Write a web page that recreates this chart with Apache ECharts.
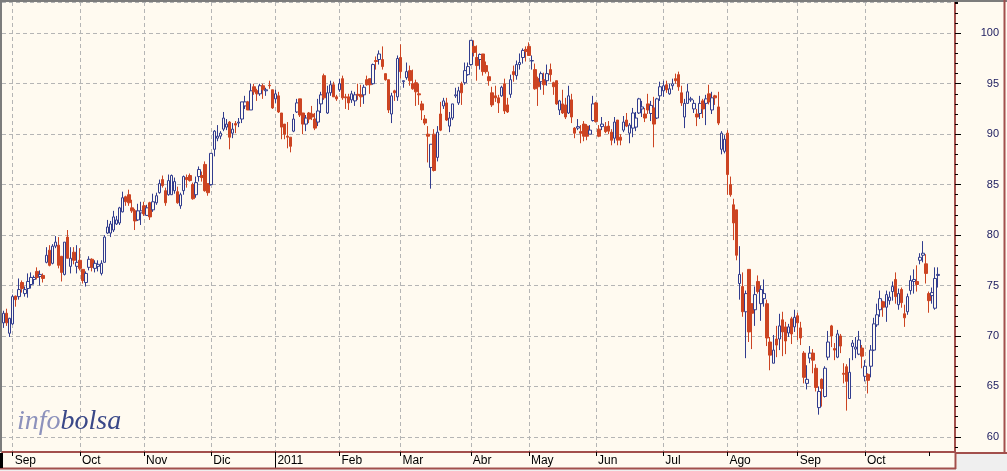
<!DOCTYPE html>
<html>
<head>
<meta charset="utf-8">
<script src="https://cdn.jsdelivr.net/npm/echarts@6/dist/echarts.min.js"></script>
<style>
html,body{margin:0;padding:0;background:#fffaf0;overflow:hidden}
#chart{width:1007px;height:471px}
</style>
</head>
<body>
<div id="chart"></div>
<script>
// ---- calendar (trading days) ----
const startDate = '2010-08-27';
const holidays = ['2010-12-24','2010-12-31','2011-04-22','2011-04-25'];
const totalSlots = 312;
// tick labels at each month start (last month: tick only)
const monthLabels = ['Sep','Oct','Nov','Dic','2011','Feb','Mar','Abr','May','Jun','Jul','Ago','Sep','Oct',''];
const yearStartLabel = '2011';

// ---- OHLC values ----
const openVals = [
71.3,72.25,70.27,71.2,73.95,73.9,75.3,74.2,74.7,75.1,
75.6,76.4,75.9,76.0,77.3,78.5,77.2,78.9,79.0,77.9,
76.1,79.8,76.9,78.3,76.9,77.5,76.6,75.3,76.8,77.6,
76.7,76.9,76.2,77.3,80.2,80.2,80.5,81.1,81.2,82.3,
83.8,84.0,82.7,82.4,81.5,82.2,82.9,81.95,83.2,82.5,
83.2,84.2,85.5,84.4,84.0,84.0,84.4,84.3,82.9,84.4,
85.7,85.9,85.0,84.0,85.8,85.9,87.0,85.1,85.0,88.5,
89.6,89.8,90.5,90.7,91.2,90.1,91.05,91.1,91.5,92.8,
93.2,92.4,94.7,94.3,94.0,94.8,94.3,94.85,94.4,93.5,
93.8,92.1,91.0,89.8,89.7,90.3,92.2,93.5,92.1,91.0,
92.1,92.0,91.5,91.2,93.0,95.8,92.1,94.1,94.9,93.7,
94.4,95.5,93.7,93.7,93.4,93.3,93.95,93.9,93.9,95.4,
95.5,95.0,97.3,97.4,97.4,96.0,95.4,92.0,94.3,93.7,
97.6,95.2,95.6,96.3,95.0,95.1,94.0,93.0,91.5,90.0,
86.7,90.0,87.7,92.0,92.8,93.1,90.8,91.6,93.8,93.1,
95.0,95.1,95.9,96.9,98.7,97.6,97.4,97.95,96.8,95.7,
94.1,93.8,93.6,93.8,95.0,92.9,93.95,96.2,95.8,96.9,
97.6,98.4,98.7,97.25,96.4,95.5,95.2,95.4,95.3,96.4,
95.1,95.3,92.4,93.0,92.9,92.1,93.4,90.6,90.6,90.25,
91.0,90.8,90.0,91.35,93.1,90.5,90.75,90.75,90.8,90.2,
89.6,91.4,89.7,90.4,91.4,90.1,90.6,90.7,92.1,92.5,
92.0,93.0,92.05,92.6,91.6,93.8,94.3,94.9,94.0,94.8,
95.5,95.9,94.1,91.7,93.05,93.4,92.5,92.0,92.05,93.3,
93.05,94.0,92.4,93.8,92.7,88.5,88.3,90.1,85.0,83.0,
82.5,75.2,74.9,72.4,76.6,73.2,72.6,75.4,73.2,73.7,
73.2,69.4,67.3,69.7,69.7,71.6,70.9,70.3,71.7,70.9,
72.0,70.8,68.3,65.3,67.8,68.3,66.8,62.9,65.7,64.0,
67.9,71.0,68.75,67.9,70.0,66.3,66.95,63.8,68.95,68.7,
68.2,68.8,66.0,66.2,67.0,68.6,71.1,72.6,73.4,72.85,
73.5,74.4,75.6,73.1,74.6,72.2,72.4,74.5,75.4,75.4,
77.5,78.0,77.15,74.2,74.0,72.75,76.0];
const closeVals = [
72.25,71.3,71.75,73.9,73.6,74.6,74.7,74.6,75.4,75.8,
75.8,75.8,76.1,75.7,78.0,77.0,78.9,79.3,77.0,76.3,
79.3,77.7,77.7,77.5,77.3,76.7,75.5,76.2,77.6,76.8,
77.2,77.1,77.2,79.8,80.8,81.1,81.8,81.5,82.7,83.7,
83.3,83.2,82.4,81.4,82.4,82.4,82.1,82.7,81.8,83.3,
83.9,85.1,84.9,83.2,85.4,85.9,85.3,83.2,84.0,85.8,
85.5,85.4,83.6,85.2,86.5,85.7,84.4,84.2,88.1,90.3,
89.8,90.1,91.6,91.0,89.7,90.5,90.9,91.2,93.2,93.2,
92.4,94.3,94.2,94.0,94.8,94.4,94.4,94.8,92.6,94.0,
92.2,90.7,90.0,89.7,88.8,91.5,93.1,91.9,91.0,91.6,
91.5,91.7,90.6,92.3,93.9,93.6,94.1,94.9,93.7,93.5,
95.0,93.6,93.6,93.1,94.0,93.9,93.85,93.7,94.65,94.9,
94.9,96.9,97.2,97.95,96.7,95.4,92.4,93.8,94.1,97.5,
96.2,95.3,96.2,95.3,94.5,94.2,93.9,92.4,91.1,89.8,
89.0,86.4,90.2,90.4,93.3,91.4,91.6,93.0,93.9,94.3,
94.1,96.3,96.7,99.3,98.1,96.8,97.9,96.2,96.2,95.3,
92.9,93.6,93.1,94.65,92.3,92.2,95.4,95.9,96.9,97.1,
98.3,98.2,97.8,97.3,94.5,94.7,96.0,94.9,96.0,95.9,
94.7,93.0,93.3,92.1,91.7,93.8,91.7,90.1,90.75,90.1,
89.8,89.8,90.4,93.0,91.25,89.8,91.0,90.25,90.3,89.4,
91.2,89.4,89.4,91.2,90.8,90.9,92.1,91.6,93.5,92.7,
91.6,92.4,92.85,91.0,93.5,94.7,94.8,94.4,94.5,95.0,
95.3,94.7,93.1,93.05,94.2,93.5,93.05,91.7,93.05,92.5,
93.5,93.2,93.6,93.6,91.1,90.1,89.5,86.0,84.0,81.2,
78.0,76.1,72.4,74.2,70.4,72.25,74.1,74.4,74.6,74.2,
69.8,68.1,68.6,69.1,71.0,70.4,69.5,70.9,70.2,71.85,
71.3,69.8,65.9,65.7,68.3,67.6,64.9,64.5,64.8,66.8,
69.4,70.0,68.6,70.2,69.0,66.2,65.5,66.4,69.3,68.9,
69.6,68.0,67.0,65.6,68.6,71.2,72.1,73.7,72.85,74.1,
73.85,74.9,73.9,74.2,73.3,71.8,73.9,75.5,75.6,75.1,
77.8,78.2,76.2,73.5,74.3,75.7,76.1];
const lowVals = [
70.8,71.0,69.9,71.1,72.9,73.6,74.3,73.9,73.8,74.7,
75.1,75.6,75.0,75.3,77.2,76.9,77.1,78.7,76.7,75.4,
76.0,77.7,76.2,77.1,76.2,76.5,75.2,74.9,76.5,76.4,
76.3,76.4,76.0,77.3,80.1,79.8,80.3,81.0,81.0,82.25,
82.9,82.9,82.2,80.5,81.4,81.0,81.9,81.9,81.5,82.3,
83.0,84.1,84.7,82.9,83.9,84.0,84.1,83.1,82.6,84.0,
84.7,85.3,83.5,83.7,85.3,85.3,84.3,83.9,84.9,87.8,
89.3,89.5,90.3,90.4,88.5,89.6,90.1,90.7,91.1,92.5,
92.4,92.4,93.9,93.3,93.8,93.5,93.8,94.5,92.5,93.1,
92.1,89.5,89.5,88.6,88.2,90.2,92.1,91.7,90.0,90.3,
91.1,91.4,90.4,90.8,92.1,93.4,92.0,93.8,93.7,93.3,
94.2,93.4,92.5,92.4,93.1,92.8,93.4,92.7,93.0,94.8,
94.0,94.9,96.4,96.9,96.4,95.3,92.1,91.1,93.3,93.3,
95.5,94.6,95.4,94.8,94.4,92.8,92.9,91.4,90.9,87.2,
84.6,86.3,87.3,90.3,92.5,91.3,90.2,91.4,93.6,92.9,
92.9,94.9,95.8,96.8,97.7,95.3,96.4,95.8,96.0,94.8,
92.7,93.2,92.1,93.7,92.0,92.1,93.6,95.2,95.4,96.4,
97.0,97.2,97.8,96.4,94.4,92.8,94.4,93.9,94.8,95.2,
93.9,92.9,91.9,92.0,91.5,92.0,91.1,89.6,90.4,89.1,
89.3,89.4,90.0,91.25,91.15,89.7,90.4,90.1,90.0,88.9,
89.1,88.9,88.9,90.2,90.7,89.1,89.7,90.3,92.0,91.7,
91.2,92.0,91.3,88.7,91.5,93.3,93.7,94.1,93.9,94.4,
95.0,94.3,92.8,90.6,93.0,93.2,92.1,90.8,91.5,91.6,
90.9,92.95,92.0,92.9,90.9,88.0,88.1,84.0,83.8,79.5,
77.5,73.6,71.9,67.8,69.4,68.7,71.0,74.2,71.5,72.9,
69.0,66.6,67.3,67.9,68.6,68.0,68.2,69.9,69.2,70.4,
69.6,69.1,65.3,64.7,67.3,66.3,64.5,62.2,63.0,63.9,
67.6,68.9,67.6,67.8,68.3,65.3,62.6,63.8,67.6,67.8,
68.1,66.8,65.5,64.3,65.9,68.5,70.9,71.9,71.9,71.4,
73.1,73.5,73.2,72.6,72.8,70.9,72.1,74.1,74.2,74.4,
77.1,77.3,75.2,72.3,73.2,72.6,74.8];
const highVals = [
72.5,72.7,71.8,74.1,74.0,75.7,75.5,74.9,76.2,76.3,
76.0,76.8,76.5,76.2,78.8,79.0,79.1,79.9,79.8,77.9,
79.3,80.5,78.8,78.8,79.0,78.7,76.6,76.4,77.9,77.7,
77.5,77.5,77.5,80.0,81.5,81.4,82.4,81.9,82.8,84.3,
83.9,84.5,83.5,82.6,83.1,83.3,83.3,83.0,83.3,84.1,
84.2,85.5,85.9,84.7,86.0,86.0,85.7,84.8,84.2,85.9,
86.0,86.1,85.2,85.8,86.8,86.3,87.3,85.1,88.1,90.4,
90.9,90.3,92.2,91.5,91.3,91.1,91.3,91.6,93.2,93.8,
93.3,95.0,95.0,94.5,95.0,95.0,94.6,95.3,94.4,94.4,
94.2,92.1,91.0,91.2,89.7,92.0,93.5,93.5,92.1,91.9,
92.2,92.8,92.1,93.5,94.2,96.0,94.8,95.3,95.2,93.9,
95.5,95.8,94.0,94.0,94.3,94.2,95.0,94.9,94.9,95.8,
95.5,97.0,97.7,98.3,98.7,96.0,95.4,94.1,94.4,97.8,
98.9,95.3,97.1,96.8,96.4,95.4,95.0,93.3,91.9,90.8,
89.0,90.5,90.8,93.2,93.6,93.6,92.2,93.0,94.6,94.7,
95.2,97.1,97.1,99.3,99.3,98.8,98.0,97.95,97.2,96.2,
94.7,94.8,93.9,94.8,95.5,93.6,95.9,96.8,97.3,98.0,
98.5,98.7,99.1,97.8,97.0,95.7,96.2,96.1,96.9,97.0,
95.2,95.3,93.4,94.4,93.6,94.8,94.0,90.7,91.5,90.9,
91.3,91.0,90.9,93.8,93.2,90.9,91.7,91.2,91.3,90.5,
91.7,91.4,90.0,91.8,92.1,91.1,92.6,92.2,93.6,93.3,
92.6,94.0,93.3,93.7,93.6,95.2,95.3,95.3,95.0,95.5,
96.0,96.2,94.8,93.5,95.0,93.7,93.4,92.5,93.8,93.5,
93.9,94.9,94.2,93.9,94.2,90.3,89.9,90.4,85.8,83.6,
82.5,78.9,76.3,74.5,76.6,73.2,74.9,76.0,75.0,75.6,
73.6,69.9,70.1,71.0,72.2,72.4,71.4,71.2,71.9,72.6,
72.3,71.4,68.5,67.1,69.0,68.7,67.2,65.0,65.8,67.0,
70.5,71.1,69.3,70.6,70.2,67.3,67.2,67.8,69.6,69.9,
70.5,69.1,67.6,66.3,69.1,71.8,73.2,74.5,73.5,74.5,
74.4,75.4,76.3,74.7,74.8,73.1,74.2,76.0,76.6,77.0,
78.2,79.4,78.1,74.4,74.8,76.8,76.8];

// ---- build categories ----
function fmt(d){return d.toISOString().slice(0,10);}
const dates = [];
(function(){
  const d = new Date(startDate + 'T12:00:00Z');
  while (dates.length < totalSlots) {
    const wd = d.getUTCDay();
    const s = fmt(d);
    if (wd !== 0 && wd !== 6 && holidays.indexOf(s) < 0) dates.push(s);
    d.setUTCDate(d.getUTCDate() + 1);
  }
})();
const monthStart = {};
(function(){
  let m = 0;
  for (let i = 1; i < dates.length; i++) {
    if (dates[i].slice(5,7) !== dates[i-1].slice(5,7) && m < monthLabels.length) {
      monthStart[i] = monthLabels[m++];
    }
  }
})();
const isTick = (i) => monthStart.hasOwnProperty(i);
const isGrid = (i) => isTick(i) && monthStart[i] !== '';
const isYear = (i) => isTick(i) && monthStart[i] === yearStartLabel;

const ohlc = openVals.map((o, i) => [o, closeVals[i], lowVals[i], highVals[i]]);

const BORDER = '#a24f4c';
const BG = '#fffaf0';
const chart = echarts.init(document.getElementById('chart'), null, {renderer: 'canvas'});
chart.setOption({
  animation: false,
  backgroundColor: BG,
  title: {
    text: '{a|info}{b|bolsa}',
    left: 17, top: 408, padding: 0,
    textStyle: {
      fontWeight: 'normal',
      rich: {
        a: {fontFamily: 'Liberation Serif', fontStyle: 'italic', fontWeight: 'normal', fontSize: 28, color: '#8d92bc'},
        b: {fontFamily: 'Liberation Serif', fontStyle: 'italic', fontWeight: 'normal', fontSize: 28, color: '#3a4888'}
      }
    }
  },
  grid: {left: 2, right: 52, top: 2, bottom: 19, containLabel: false, outerBoundsMode: 'none'},
  xAxis: [{
    type: 'category',
    data: dates,
    boundaryGap: true,
    axisLine: {show: true, lineStyle: {color: BORDER, width: 2}},
    axisTick: {show: true, alignWithLabel: true, interval: (i) => isTick(i), length: 4, lineStyle: {color: '#000', width: 1}},
    axisLabel: {
      show: true, interval: (i) => isGrid(i), formatter: (v, i) => monthStart[i] || '',
      align: 'left', padding: [0, 0, 0, 2], margin: 3,
      color: '#000', fontFamily: 'Liberation Sans, Arial, sans-serif', fontSize: 12
    },
    splitLine: {show: true, alignWithLabel: true, interval: (i) => isGrid(i), lineStyle: {color: '#b5b5b5', type: [4, 3], width: 1}}
  }, {
    type: 'category',
    data: dates,
    position: 'bottom',
    boundaryGap: true,
    axisLine: {show: false},
    axisTick: {show: true, alignWithLabel: true, interval: (i) => isYear(i), length: 16, lineStyle: {color: '#000', width: 1}},
    axisLabel: {show: false},
    splitLine: {show: false}
  }],
  yAxis: [{
    type: 'value',
    position: 'right',
    min: 58.5, max: 103.1,
    splitNumber: 9,
    scale: true,
    axisLine: {show: true, lineStyle: {color: BORDER, width: 2}},
    axisTick: {show: true, length: 6, lineStyle: {color: '#000', width: 1}},
    axisLabel: {
      show: true, align: 'right', margin: 44, showMinLabel: false, showMaxLabel: false,
      color: '#1a1a5e', fontFamily: 'Liberation Sans, Arial, sans-serif', fontSize: 11
    },
    splitLine: {show: true, lineStyle: {color: '#b5b5b5', type: [4, 3], width: 1}}
  }, {
    type: 'value',
    position: 'right',
    min: 58.5, max: 103.1,
    splitNumber: 45,
    scale: true,
    axisLine: {show: false},
    axisTick: {show: true, length: 3, lineStyle: {color: '#000', width: 1}},
    axisLabel: {show: false},
    splitLine: {show: false}
  }],
  series: [{
    type: 'candlestick',
    xAxisIndex: 0, yAxisIndex: 0,
    data: ohlc,
    barWidth: 3,
    itemStyle: {
      color: BG, borderColor: '#313c8e',
      color0: '#cc4422', borderColor0: '#cc4422',
      borderWidth: 1
    }
  }],
  graphic: [
    {type: 'rect', shape: {x: 957, y: 454, width: 50, height: 17}, style: {fill: '#efefef'}, z: 100},
    {type: 'rect', shape: {x: 0, y: 469, width: 957, height: 2}, style: {fill: '#efefef'}, z: 100},
    {type: 'line', shape: {x1: 0, y1: 1, x2: 1007, y2: 1}, style: {stroke: '#7c7c7c', lineWidth: 2}, z: 100},
    {type: 'line', shape: {x1: 1, y1: 0, x2: 1, y2: 452}, style: {stroke: '#7c7c7c', lineWidth: 2}, z: 100},
    {type: 'line', shape: {x1: 1004.5, y1: 0, x2: 1004.5, y2: 454}, style: {stroke: BORDER, lineWidth: 2}, z: 100},
    {type: 'line', shape: {x1: 955, y1: 453, x2: 1007, y2: 453}, style: {stroke: BORDER, lineWidth: 2}, z: 100},
    {type: 'line', shape: {x1: 0, y1: 468.5, x2: 956, y2: 468.5}, style: {stroke: BORDER, lineWidth: 2}, z: 100},
    {type: 'line', shape: {x1: 955.5, y1: 452, x2: 955.5, y2: 469}, style: {stroke: BORDER, lineWidth: 2}, z: 100},
    {type: 'rect', shape: {x: 0, y: 453, width: 3, height: 15}, style: {fill: '#000'}, z: 100}
  ]
});
</script>
</body>
</html>
